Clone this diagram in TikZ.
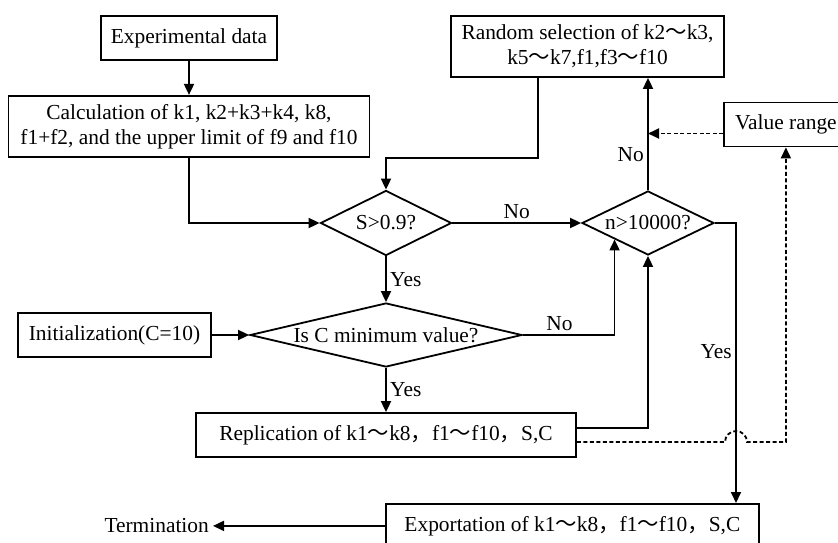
\documentclass[tikz,border=0pt]{standalone}
\usepackage{fontspec}
\setmainfont{Liberation Serif}
\newfontfamily\cjk{Noto Sans CJK SC}
\newcommand\kwave{{\cjk ～}}
\newcommand\kcomma{{\cjk ，}}
\usetikzlibrary{
  arrows.meta,
  calc,
  positioning,
  shapes.geometric,
}
\tikzset{
  >={Triangle[length=11pt,width=10pt]},
  box/.style={draw,rectangle,line width=1.8pt,minimum height=44,align=center,inner sep=4pt},
  decision/.style={draw,diamond,line width=1.8pt,inner sep=0pt,aspect=2},
  flow/.style={->,line width=1.8pt},
  hint/.style={->,line width=1.8pt,dash pattern=on 4pt off 2.5pt},
}

\begin{document}
\begin{tikzpicture}[x=1pt,y=-1pt,font=\fontsize{21.4}{25}\selectfont]
        \useasboundingbox (0,0) rectangle (838,543);

        \node[box,minimum width=176]                      (exp)    at (189,38)      {Experimental data};
        \node[box,minimum width=361,minimum height=61]    (calc)   [below=34pt of exp] {Calculation of k1, k2+k3+k4, k8,\\ f1+f2, and the upper limit of f9 and f10};
        \node[box,minimum width=273,minimum height=61]    (rand)   at (587.5,46.5)  {Random selection of k2\kwave k3,\\ k5\kwave k7,f1,f3\kwave f10};
        \node[box,minimum width=124,anchor=west]          (vrange) at (723,124.5)   {Value range};

        \node[decision,minimum width=131,minimum height=65]            (sdec) at (386,223) {S>0.9?};
        \node[decision,minimum width=132,minimum height=64]            (ndec) at (648,223) {n>10000?};
        \node[decision,minimum width=272,minimum height=64,aspect=4.25] (cdec) at (386,335) {Is C minimum value?};

        \node[box,minimum width=193]                      (init)   at (114.5,335)   {Initialization(C=10)};
        \node[box,minimum width=380]                      (repl)   at (386,435)     {Replication of k1\kwave k8\kcomma f1\kwave f10\kcomma S,C};
        \node[box,minimum width=373,anchor=north west]    (expo)   at (385,503)     {Exportation of k1\kwave k8\kcomma f1\kwave f10\kcomma S,C};
        \node[inner sep=4pt]                              (term)   [left=172pt of expo] {Termination};

        \coordinate (back) at (538,158);
        \coordinate (hop)  at (736,442);

        \draw[flow] (exp) -- (calc);
        \draw[flow] (calc.south) |- (sdec.west);
        \draw[flow] (rand.south -| back) -- (back) -| (sdec.north);
        \draw[flow] (sdec.east) -- node[above] (noa) {No} (ndec.west);
        \draw[flow] (ndec.north) -- node[left,pos=0.32] (nob) {No} (ndec.north |- rand.south);
        \draw[flow] (sdec.south) -- node[right] (yesa) {Yes} (cdec.north);
        \draw[flow] (init) -- (cdec);
        \draw[flow] (cdec.east) -| node[above,pos=0.2] (noc) {No} (ndec.south west);
        \draw[flow] (cdec.south) -- node[right] (yesb) {Yes} (repl.north);
        \draw[flow] ([yshift=7pt]repl.east) -| (ndec.south);
        \draw[flow] (ndec.east) -| node[left,pos=0.73] (yesc) {Yes} (hop |- expo.north);
        \draw[flow] (expo.west) -- (term.east);

        % dashed hints from the value range
        \draw[hint] ([yshift=-9pt]vrange.west) -- ([yshift=-9pt]vrange.west -| ndec.north);
        \draw[hint] ([yshift=-7pt]repl.east) -- ([xshift=-11pt]hop) arc[start angle=180,end angle=0,radius=11pt] -- (vrange.south |- hop) -- (vrange.south);
    \end{tikzpicture}
\end{document}
